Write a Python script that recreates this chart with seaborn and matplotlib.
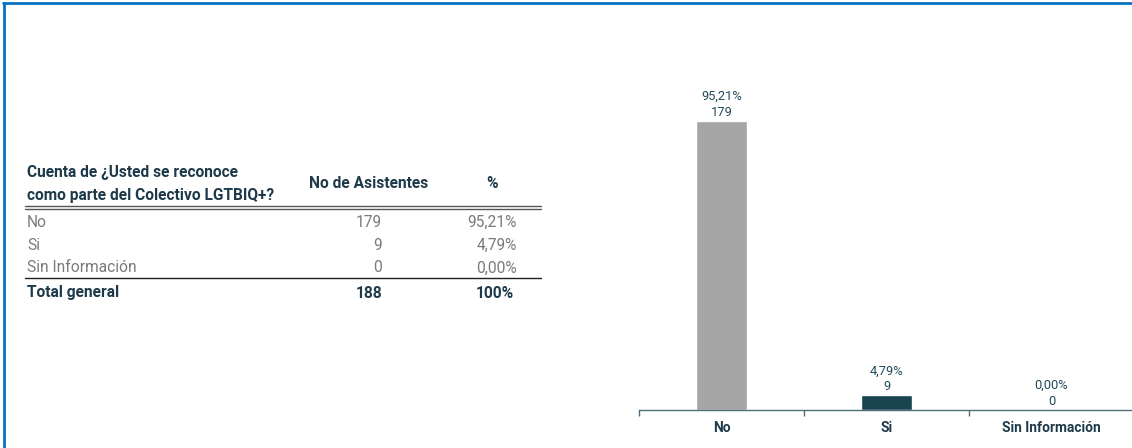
import matplotlib
matplotlib.use('Agg')
import matplotlib.pyplot as plt
import seaborn as sns
import pandas as pd
from matplotlib.lines import Line2D

# Data
categorias = ['No', 'Si', 'Sin Información']
asistentes = [179, 9, 0]
porcentajes = ['95,21%', '4,79%', '0,00%']
total_asistentes = 188
total_pct = '100%'
header_pregunta = ['Cuenta de ¿Usted se reconoce', 'como parte del Colectivo LGTBIQ+?']
header_cols = ['No de Asistentes', '%']

sns.set_style('white')
plt.rcParams['font.family'] = ['Roboto', 'DejaVu Sans']

W, H = 1132, 448
fig = plt.figure(figsize=(W / 100, H / 100), dpi=100)

def fx(px):
    return px / W

def fy(py):
    return 1 - py / H

# blue frame (top and left)
fig.add_artist(Line2D([fx(3), 1], [fy(3.5), fy(3.5)], color='#0A72C2', lw=2))
fig.add_artist(Line2D([fx(3.5), fx(3.5)], [fy(3), 0], color='#0A72C2', lw=2))

# Table
head_col = '#1E3A4A'
row_col = '#7A7A7A'
hs = 11.2
rs = 11.2
fig.text(fx(27), fy(172), header_pregunta[0], fontsize=hs, fontweight='bold',
         color=head_col, va='center', ha='left')
fig.text(fx(27), fy(195), header_pregunta[1], fontsize=hs, fontweight='bold',
         color=head_col, va='center', ha='left')
fig.text(fx(369), fy(183), header_cols[0], fontsize=hs, fontweight='bold',
         color=head_col, va='center', ha='center')
fig.text(fx(492), fy(183), header_cols[1], fontsize=hs, fontweight='bold',
         color=head_col, va='center', ha='center')

fig.add_artist(Line2D([fx(25), fx(541)], [fy(206), fy(206)], color='#555555', lw=1))
fig.add_artist(Line2D([fx(25), fx(541)], [fy(209), fy(209)], color='#555555', lw=1))

row_y = [222, 245, 268]
for cat, n, p, y in zip(categorias, asistentes, porcentajes, row_y):
    fig.text(fx(27), fy(y), cat, fontsize=rs, color=row_col, va='center', ha='left')
    fig.text(fx(382), fy(y), str(n), fontsize=rs, color=row_col, va='center', ha='right')
    fig.text(fx(517), fy(y), p, fontsize=rs, color=row_col, va='center', ha='right')

fig.add_artist(Line2D([fx(25), fx(541)], [fy(278), fy(278)], color='#222222', lw=1))
fig.text(fx(27), fy(293), 'Total general', fontsize=hs, fontweight='bold',
         color=head_col, va='center', ha='left')
fig.text(fx(382), fy(293), str(total_asistentes), fontsize=hs, fontweight='bold',
         color=head_col, va='center', ha='right')
fig.text(fx(514), fy(293), total_pct, fontsize=hs, fontweight='bold',
         color=head_col, va='center', ha='right')

# Bar chart
ax = fig.add_axes([fx(639), 38 / H, (1134 - 639) / W, 323 / H])
df = pd.DataFrame({'cat': categorias, 'n': asistentes})
sns.barplot(data=df, x='cat', y='n', hue='cat', order=categorias,
            palette=['#A6A6A6', '#17444F', '#17444F'], width=0.31,
            legend=False, ax=ax, saturation=1)
ax.set_ylim(0, 200)
ax.set_xlim(-0.5, 2.5)
ax.set_xlabel('')
ax.set_ylabel('')
ax.set_yticks([])
for s in ['top', 'right', 'left']:
    ax.spines[s].set_visible(False)
ax.spines['bottom'].set_color('#4F6E7A')
ax.spines['bottom'].set_linewidth(1)
ax.set_xticks([-0.5, 0.5, 1.5, 2.5], minor=True)
ax.tick_params(axis='x', which='major', length=0, pad=8, bottom=True)
ax.tick_params(axis='x', which='minor', length=4, width=1, color='#4F6E7A',
               direction='out', bottom=True)
for lbl in ax.get_xticklabels():
    lbl.set_fontweight('bold')
    lbl.set_fontsize(9.9)
    lbl.set_color('#1E3A4A')

for i, (n, p) in enumerate(zip(asistentes, porcentajes)):
    ax.annotate(f'{p}\n{n}', xy=(i, n), xytext=(0, 1.5), textcoords='offset points',
                ha='center', va='bottom', fontsize=9.3, color='#1F4A58',
                linespacing=1.3)

fig.savefig('out.png', dpi=100)
